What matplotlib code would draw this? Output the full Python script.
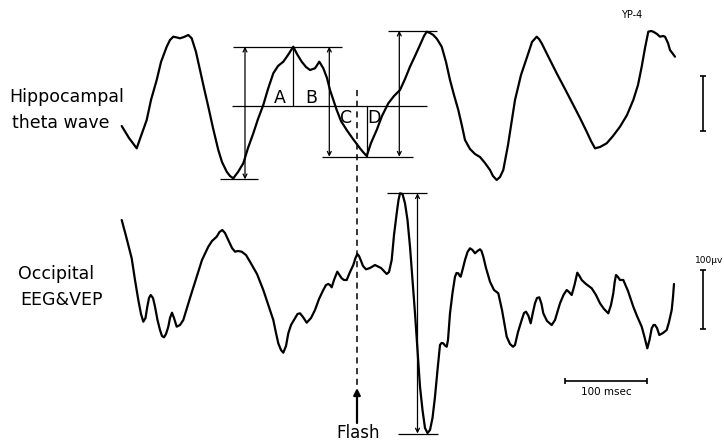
import matplotlib
matplotlib.use("Agg")
from matplotlib import pyplot as plt

# traced samples of the two records (x: time position, y: deflection, picture units)
hippo_x = [121.7, 129, 136.7, 141, 146.7, 151, 156.7, 161, 166.7, 170, 173.3, 177, 180, 184, 188.3, 191.7,
           196, 200, 204, 208.3, 213, 218.3, 222, 226.7, 230, 233.3, 238, 243.3, 248, 253.3, 258, 263.3,
           268, 273.3, 278, 283.3, 288, 293.3, 297, 301.7, 306, 310, 315, 319.3, 323.3, 327, 330, 336.7,
           341, 346.7, 353, 360, 363, 366.7, 371, 376.7, 382, 388.3, 394, 400, 405, 410, 415, 420,
           424, 426.7, 430, 433.3, 437, 441.7, 446, 450, 454, 458.3, 462, 465, 470, 475, 480, 485,
           490, 493, 496.7, 500, 503.3, 508, 515, 521, 528.3, 532, 536.7, 539, 541.7, 549, 556.7, 565,
           573.3, 580, 586.7, 591, 595, 600, 606.7, 613, 620, 627, 633.3, 638, 641.7, 645, 648.3,
           651, 653.3, 657, 660, 663, 665, 668, 670, 673, 675]
hippo_y = [126, 138, 148.3, 136, 120, 100, 80, 62, 46.7, 40, 36.7, 37.5, 38.3, 37, 35, 38.3,
           52, 70, 88, 106.7, 128, 150, 162, 171.7, 176, 178.3, 172, 163.3, 148, 133.3, 119, 105,
           89, 73.3, 66, 61.7, 55, 46.7, 54, 61.7, 67, 70, 68.3, 61.7, 68.3, 78, 90, 110,
           121, 130, 139, 148.3, 152, 156, 143, 130, 116, 103.3, 96, 90, 79, 66.7, 56, 45,
           36, 31.7, 33, 35, 39, 46.7, 62, 80, 95, 110, 126, 140, 149, 154, 157, 163,
           170, 176, 180, 177, 170, 145, 100, 75, 53.3, 42, 36.7, 39, 43.3, 58, 73.3, 89,
           105, 118, 131.7, 141, 148.3, 147, 143.3, 136, 126.7, 115, 100, 85, 66.7, 48, 31.7,
           31, 31.7, 34, 36.7, 36, 36.7, 43, 50, 54, 56.7]

eeg_x = [121.7, 126, 131.7, 135, 138.3, 141, 143.3, 145.5, 147.3, 149, 150.7, 153, 155, 157.5, 160, 162, 164,
         166, 168.3, 170, 172, 174, 176.7, 180, 183.3, 190, 196.7, 202, 208.3, 212, 216.7, 219.5, 222.3,
         225, 228.3, 232, 235, 238, 241.7, 246, 250, 257, 263.3, 268, 273.3, 276, 278.3, 281, 283.3,
         286, 288.3, 291, 295, 297.5, 300, 303, 306.7, 311, 315, 319, 323.3, 326, 328.3, 330, 331.7,
         334, 337.3, 339.5, 341.7, 344, 346.7, 350, 353.3, 355.5, 357.3, 359, 360.7, 363, 366, 370,
         375, 381, 386.7, 389, 391.7, 394, 396.7, 398.5, 400, 402.5, 405, 407.5, 410, 415, 420,
         422.5, 425, 427.5, 430, 432.5, 435, 437.5, 440, 441.5, 443.3, 445, 446.7, 448, 450, 452.5, 455,
         456.5, 458.3, 459.5, 460.7, 463, 465, 467.5, 470, 472.5, 475, 477.5, 480, 481.5, 483.3, 486,
         490, 494, 498.3, 502, 506.7, 510, 513, 515, 518, 521.7, 524, 526, 528.5, 530.7, 533,
         535, 537, 539.3, 541.5, 543.3, 547, 551.7, 555, 560, 563.5, 566.7, 569, 571.7, 574.5, 577.3,
         579.5, 581.7, 586, 591.7, 596, 600, 604, 608.3, 611, 613.3, 614.7, 616, 618, 620, 623.3,
         628, 633.3, 637, 641.7, 644.5, 647.3, 649.5, 651.7, 653.5, 655, 657, 659.3, 663, 666.7,
         669, 671.7, 673, 674]
eeg_y = [220, 236, 258.3, 280, 300, 314, 321.7, 318, 306.7, 298, 295, 298, 306.7, 320, 330, 336, 337.3,
         334, 326.7, 318, 312.7, 318, 326.7, 325, 320, 298, 276.7, 260, 246.7, 241, 236.7, 232, 230,
         233, 240, 248, 251.7, 251, 251.7, 255, 261.7, 274, 290, 304, 320, 333, 343.3, 350, 352.7,
         346, 333.3, 325, 318.3, 314, 313.3, 317, 322.7, 318, 310, 299, 290, 285, 284, 285, 287.3,
         280, 271.7, 275, 278.3, 280, 280, 272, 265, 258, 254, 256, 260, 266, 269.3, 268,
         265, 268, 274, 272, 260, 235, 213.3, 200, 193.3, 194, 203.3, 220, 246.7, 313.3, 386.7,
         410, 428, 433, 430, 418, 396.7, 370, 345, 343, 343.3, 345.5, 346.7, 340, 313.3, 293, 276.7,
         273, 273.3, 275.5, 276.7, 268, 260, 252, 248.3, 250, 253.3, 251, 249.3, 251, 256.7, 268,
         281.7, 290, 293.3, 310, 336.7, 344, 346.7, 345, 332, 320, 313, 311.7, 316, 323.3, 312,
         303.3, 298, 297.3, 304, 313.3, 321, 325, 320, 303.3, 295, 290, 292, 295, 285, 272.7,
         276, 280, 284, 288.3, 295, 303.3, 309, 313.3, 305, 293.3, 282, 275, 277, 280, 280,
         291, 306.7, 316, 326.7, 337, 348.3, 340, 328.3, 325, 325, 328, 335, 333, 330,
         322, 310, 297, 284]

labels_abcd = ["A", "B", "C", "D"]
label_pos = [(279.3, 98.3), (311.3, 98.3), (346, 118), (374, 118)]

fig = plt.figure(figsize=(7.24, 4.43), dpi=100)
ax = fig.add_axes([0, 0, 1, 1])
ax.set_xlim(0, 724)
ax.set_ylim(443, 0)
ax.axis("off")

ink = "black"
ax.plot(hippo_x, hippo_y, color=ink, lw=1.6, solid_joinstyle="round", solid_capstyle="round")
ax.plot(eeg_x, eeg_y, color=ink, lw=1.6, solid_joinstyle="round", solid_capstyle="round")

thin = 0.9
# measurement guides on the theta wave
ax.hlines([46.7, 105.7, 179.3, 156.7, 30.7], [233, 232, 220, 322, 388], [342, 427, 258, 413, 437],
          color=ink, lw=thin)
ax.vlines([293.3, 366.7], [46.7, 105.7], [105.7, 156.7], color=ink, lw=thin)


def darrow(x, y0, y1):
    ax.annotate("", xy=(x, y0), xytext=(x, y1),
                arrowprops=dict(arrowstyle="<->", lw=thin, color=ink, mutation_scale=7,
                                shrinkA=0, shrinkB=0))


darrow(245, 46.7, 179.3)
darrow(329.3, 46.7, 156.7)
darrow(399.3, 30.7, 156.7)

for lab, (lx, ly) in zip(labels_abcd, label_pos):
    ax.text(lx, ly, lab, fontsize=12.5, ha="center", va="center")

# VEP amplitude guides
ax.hlines([193.3, 433.5], [387, 398], [427, 438], color=ink, lw=thin)
darrow(417.5, 193.3, 433.5)

# flash marker
ax.vlines(357, 90, 386, color=ink, lw=1.1, linestyles=(0, (4, 3)))
ax.annotate("", xy=(357, 388), xytext=(357, 423),
            arrowprops=dict(arrowstyle="-|>", lw=1.6, color=ink, mutation_scale=10,
                            shrinkA=0, shrinkB=0))
ax.text(358, 433, "Flash", fontsize=12, ha="center", va="center")

# calibration bars
ax.vlines([702.7, 702.5], [75.7, 270], [131, 329.3], color=ink, lw=1.2)
ax.hlines([75.7, 131, 270, 329.3], 699.5, 705.8, color=ink, lw=1.2)
ax.text(723, 260.5, "100\u00b5v", fontsize=6.5, ha="right", va="center")
ax.hlines(380.7, 565, 646.7, color=ink, lw=1.2)
ax.vlines([565, 646.7], 377.5, 384, color=ink, lw=1.2)
ax.text(606, 392, "100 msec", fontsize=7.5, ha="center", va="center")
ax.text(632, 15, "YP-4", fontsize=7, ha="center", va="center")

# trace labels
ax.text(9, 97, "Hippocampal", fontsize=12.5, ha="left", va="center")
ax.text(12, 123, "theta wave", fontsize=12.5, ha="left", va="center")
ax.text(18, 274, "Occipital", fontsize=12.5, ha="left", va="center")
ax.text(20, 300, "EEG&VEP", fontsize=12.5, ha="left", va="center")

fig.savefig("out.png", dpi=100)
